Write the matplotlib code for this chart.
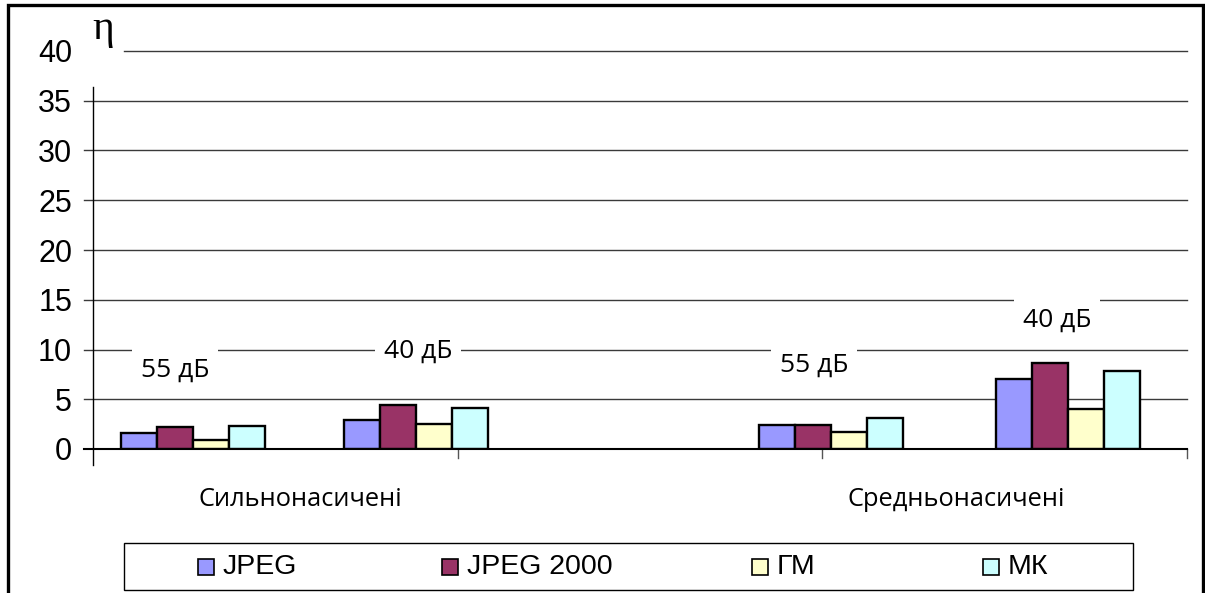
import numpy as np
import matplotlib.pyplot as plt
from matplotlib.patches import Rectangle

# data
series = ['JPEG', 'JPEG 2000', 'ГМ', 'МК']
colors = ['#9999FF', '#993366', '#FFFFCC', '#CCFFFF']
categories = ['Сильнонасичені', 'Средньонасичені']
group_labels = ['55 дБ', '40 дБ', '55 дБ', '40 дБ']
jpeg = [1.6, 2.9, 2.4, 7.0]
jpeg2000 = [2.2, 4.4, 2.4, 8.6]
gm = [0.9, 2.5, 1.7, 4.0]
mk = [2.3, 4.1, 3.1, 7.8]
values = [jpeg, jpeg2000, gm, mk]

W, H = 1205, 593
fig = plt.figure(figsize=(W / 100, H / 100), dpi=100)
ax = fig.add_axes([93 / W, 1 - 449 / H, 1094 / W, 398 / H])

# layout of the groups on a 0..3 category axis
centers = np.array([0.274, 0.886, 2.024, 2.673])
width = 0.099
for i, (vals, col) in enumerate(zip(values, colors)):
    ax.bar(centers + (i - 1.5) * width, vals, width, color=col,
           edgecolor='black', linewidth=1.7, zorder=3)

ax.set_xlim(0, 3)
ax.set_ylim(0, 40)
for s in ax.spines.values():
    s.set_visible(False)
ax.set_xticks([])
ax.set_yticks(np.arange(0, 41, 5))
ax.tick_params(axis='y', length=0, pad=15)
for lab in ax.get_yticklabels():
    lab.set_fontfamily('Liberation Sans')
    lab.set_fontsize(22)

# gridlines with the little outside ticks
tick = 9 / 364.7
for yv in range(5, 40, 5):
    ax.plot([-tick, 3], [yv, yv], color='#3a3a3a', lw=1.0,
            clip_on=False, zorder=1)
ax.plot([0.085, 3], [40, 40], color='#3a3a3a', lw=1.0, clip_on=False, zorder=1)
# axes lines
ax.plot([-tick, 3], [0, 0], color='black', lw=1.5, clip_on=False, zorder=4)
ax.plot([0, 0], [-1.6, 36.4], color='black', lw=1.0, clip_on=False, zorder=4)
for xv in [1, 2, 3]:
    ax.plot([xv, xv], [0, -0.9], color='#555555', lw=1.0, clip_on=False)

# data group labels with white boxes
label_pos = [(0.225, 7.9), (0.891, 9.85), (1.977, 8.45), (2.643, 12.9)]
for txt, (lx, ly) in zip(group_labels, label_pos):
    ax.text(lx, ly, txt, ha='center', va='center', fontsize=19,
            family='Open Sans', zorder=5,
            bbox=dict(fc='white', ec='none', pad=6.5))

# axis title
fig.text(103 / W, 1 - 39 / H, 'η', ha='center', va='baseline',
         family='Liberation Serif', fontsize=30)

# category labels
for txt, px in zip(categories, [300, 956]):
    fig.text(px / W, 1 - 500 / H, txt, ha='center', va='center',
             family='Open Sans', fontsize=18.3)

# legend box drawn by hand to match the spacing
fig.patches.append(Rectangle((124 / W, 1 - 590 / H), (1133 - 124) / W, 47 / H,
                             transform=fig.transFigure, fill=False,
                             ec='black', lw=1.0))
mark_x = [198, 442, 752, 983]
for name, col, mx in zip(series, colors, mark_x):
    fig.patches.append(Rectangle((mx / W, 1 - 575 / H), 16 / W, 16 / H,
                                 transform=fig.transFigure, fc=col,
                                 ec='black', lw=1.2))
    fig.text((mx + 25) / W, 1 - 567 / H, name, ha='left', va='center',
             family='Liberation Sans', fontsize=20.5)

# outer frame
fig.patches.append(Rectangle((8 / W, -0.1), (1203 - 8) / W, 1.1 - 5 / H,
                             transform=fig.transFigure, fill=False,
                             ec='black', lw=2.4))

fig.savefig('out.png', dpi=100)
